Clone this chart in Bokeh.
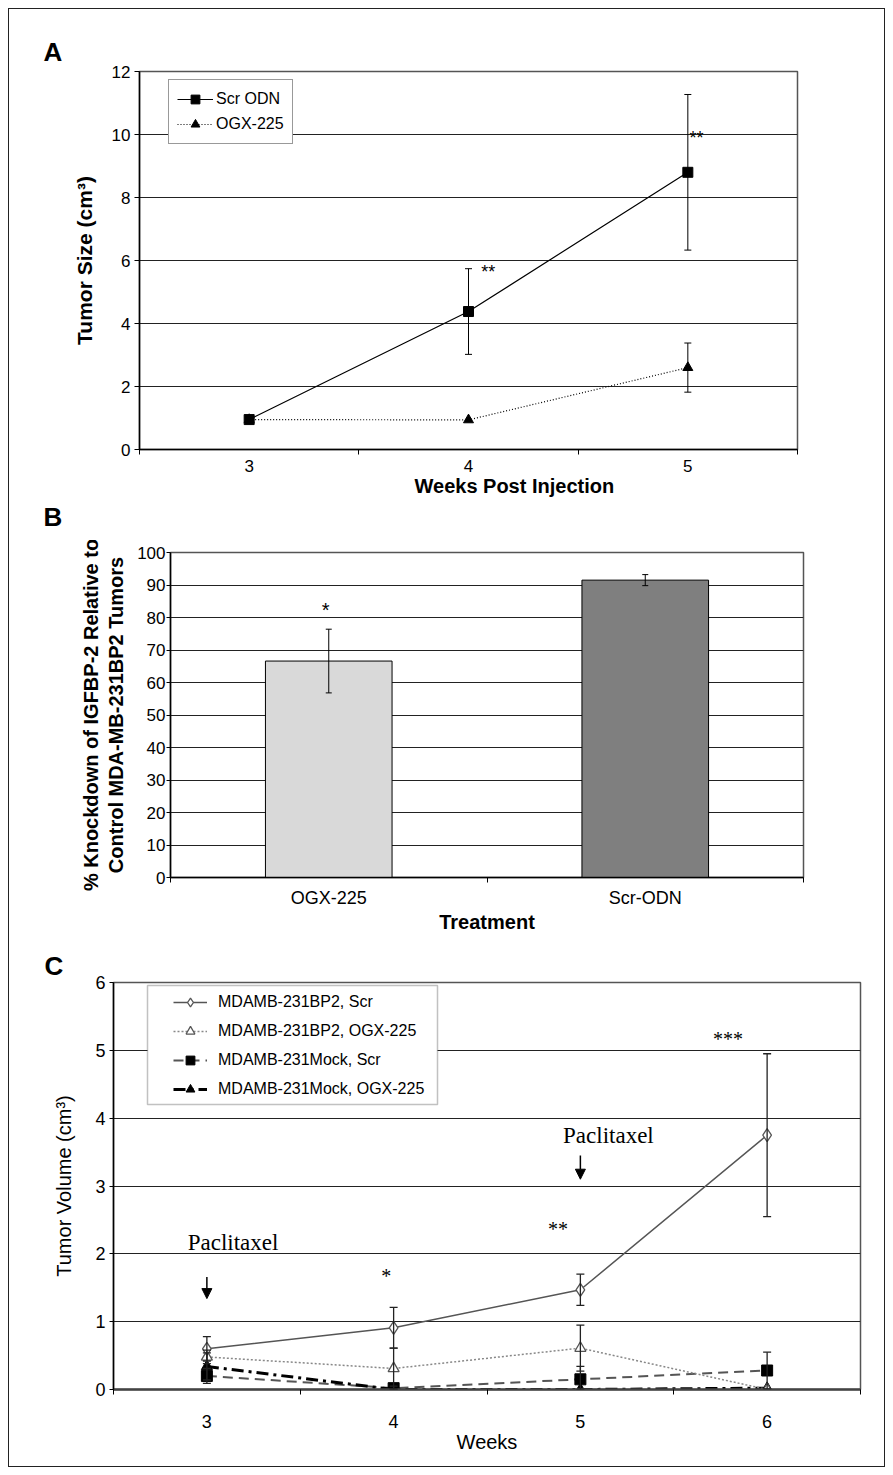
from bokeh.plotting import figure
from bokeh.models import (ColumnDataSource, Whisker, TeeHead, Legend, LegendItem, Title,
                          FixedTicker, SingleIntervalTicker, Range1d, Arrow, NormalHead,
                          BoxAnnotation)
from bokeh.layouts import column, row
from bokeh.embed import file_html
from bokeh.resources import INLINE
from bokeh.core.properties import value

SANS = "Liberation Sans"
SERIF = "Liberation Serif"

# ---------------- Panel A data ----------------
weeks_a = [3, 4, 5]
week_labels_a = ["3", "4", "5"]
scr_odn = [0.95, 4.38, 8.80]
scr_odn_err = [0.0, 1.36, 2.47]
ogx_225 = [0.95, 0.94, 2.60]
ogx_225_err = [0.0, 0.0, 0.78]
stars_a_text = ["**", "**"]
stars_a_x = [4.09, 5.04]
stars_a_y = [5.62, 9.90]

# ---------------- Panel B data ----------------
treatments = ["OGX-225", "Scr-ODN"]
knockdown = [66.6, 91.5]
knockdown_err = [9.8, 1.7]
bar_colors = ["#d9d9d9", "#7f7f7f"]
stars_b_text = ["*"]
stars_b_x = [0.49]
stars_b_y = [82.3]

# ---------------- Panel C data ----------------
weeks_c = [3, 4, 5, 6]
week_labels_c = ["3", "4", "5", "6"]
series_c_names = ["MDAMB-231BP2, Scr", "MDAMB-231BP2, OGX-225",
                  "MDAMB-231Mock, Scr", "MDAMB-231Mock, OGX-225"]
bp2_scr = [0.60, 0.91, 1.47, 3.75]
bp2_scr_err = [0.18, 0.30, 0.23, 1.20]
bp2_ogx = [0.48, 0.31, 0.61, 0.00]
bp2_ogx_err = [0.10, 0.30, 0.34, 0.0]
mock_scr = [0.20, 0.02, 0.15, 0.28]
mock_scr_err = [0.11, 0.03, 0.19, 0.27]
mock_ogx = [0.34, 0.00, 0.00, 0.02]
mock_ogx_err = [0.20, 0.0, 0.0, 0.0]
stars_c_text = ["*", "**", "***"]
stars_c_x = [3.96, 4.88, 5.79]
stars_c_y = [1.68, 2.37, 5.16]
pac_text = ["Paclitaxel", "Paclitaxel"]
pac_x = [3.14, 5.15]
pac_y = [2.16, 3.74]
arrow_x = [3, 5]
arrow_y_start = [1.66, 3.45]
arrow_y_end = [1.34, 3.10]


def add_err(p, xs, ys, es, color="black", width=1.0, head=7):
    pts = [(x, y, e) for x, y, e in zip(xs, ys, es) if e > 0]
    src = ColumnDataSource(dict(
        x=[a for a, _, _ in pts],
        upper=[y + e for _, y, e in pts],
        lower=[max(y - e, 0) for _, y, e in pts]))
    w = Whisker(source=src, base="x", upper="upper", lower="lower",
                line_color=color, line_width=width, level="annotation",
                upper_head=TeeHead(size=head, line_color=color, line_width=width),
                lower_head=TeeHead(size=head, line_color=color, line_width=width))
    p.add_layout(w)


def style(p, tick_font_x="17px", tick_font_y="17px"):
    p.xgrid.visible = False
    p.ygrid.grid_line_color = "#222222"
    p.ygrid.grid_line_width = 1.2
    p.outline_line_color = "#555555"
    p.outline_line_width = 1.5
    p.background_fill_color = "white"
    p.border_fill_color = "white"
    for ax in (p.xaxis[0], p.yaxis[0]):
        ax.axis_line_color = "black"
        ax.axis_line_width = 1.5
        ax.major_label_text_font = SANS
        ax.axis_label_text_font = SANS
        ax.major_label_text_color = "black"
        ax.axis_label_text_color = "black"
        ax.major_tick_line_color = "black"
        ax.minor_tick_line_color = "black"
        ax.major_tick_in = 0
        ax.minor_tick_in = 0
    p.xaxis[0].major_label_text_font_size = tick_font_x
    p.yaxis[0].major_label_text_font_size = tick_font_y
    p.xaxis[0].major_tick_out = 0
    p.xaxis[0].minor_tick_out = 5
    p.yaxis[0].minor_tick_out = 0
    p.yaxis[0].major_tick_out = 5


def panel_title(text, offset, standoff, valign, size="26px"):
    return Title(text=text, align="left", offset=offset, standoff=standoff,
                 vertical_align=valign, text_font=SANS, text_font_style="bold",
                 text_font_size=size, text_color="black")


# ======================= Panel A =======================
pA = figure(width=875, height=531, x_range=Range1d(2.5, 5.5), y_range=Range1d(0, 12),
            output_backend="svg", toolbar_location=None,
            title=panel_title("A", -96, 9, "bottom"),
            min_border_left=130, min_border_right=87, min_border_top=62, min_border_bottom=91)
style(pA)
pA.xaxis[0].ticker = FixedTicker(ticks=weeks_a, minor_ticks=[2.5, 3.5, 4.5, 5.5])
pA.xaxis[0].major_label_overrides = {w: s for w, s in zip(weeks_a, week_labels_a)}
pA.xaxis[0].major_label_standoff = 5
pA.yaxis[0].ticker = SingleIntervalTicker(interval=2, num_minor_ticks=0)
pA.yaxis[0].major_label_standoff = 4
pA.yaxis[0].axis_label = "Tumor Size (cm³)"
pA.yaxis[0].axis_label_text_font_style = "bold"
pA.yaxis[0].axis_label_text_font_size = "21px"
pA.yaxis[0].axis_label_standoff = 13

srcA = ColumnDataSource(dict(x=weeks_a, scr=scr_odn, ogx=ogx_225))
lA1 = pA.line("x", "scr", source=srcA, line_color="black", line_width=1.2)
lA2 = pA.line("x", "ogx", source=srcA, line_color="black", line_width=1.2, line_dash="1 2")
add_err(pA, weeks_a, scr_odn, scr_odn_err, head=7)
add_err(pA, weeks_a, ogx_225, ogx_225_err, head=7)
mA1 = pA.scatter("x", "scr", source=srcA, marker="square", size=10, color="black")
mA2 = pA.scatter("x", "ogx", source=srcA, marker="triangle", size=10, color="black")
pA.text(x=stars_a_x, y=stars_a_y, text=stars_a_text, text_font=value(SANS),
        text_font_size="18px", text_align="center", text_baseline="middle", text_color="black")

legA = Legend(items=[LegendItem(label="Scr ODN", renderers=[lA1, mA1]),
                     LegendItem(label="OGX-225", renderers=[lA2, mA2])],
              location=(29, 305), padding=8, spacing=3, glyph_width=36, glyph_height=22,
              label_height=22, label_standoff=3, label_text_font=SANS,
              label_text_font_size="16px", label_text_color="black",
              border_line_color="#333333", border_line_width=1.5,
              background_fill_color="white", background_fill_alpha=1.0, margin=0)
pA.add_layout(legA)
# x-axis title of panel A (offset to the right as in the original) and the "B" panel letter
pA.add_layout(Title(text="Weeks Post Injection", align="left", offset=275, standoff=0,
                    vertical_align="top", text_font=SANS, text_font_style="bold",
                    text_font_size="20px", text_color="black"), "below")
pA.add_layout(panel_title("B", -96, 6, "top"), "below")

# ======================= Panel B =======================
pB = figure(width=875, height=400, x_range=Range1d(0, 2), y_range=Range1d(0, 100),
            output_backend="svg", toolbar_location=None, title=None,
            min_border_left=161, min_border_right=81, min_border_top=12, min_border_bottom=63)
style(pB, tick_font_x="18px")
bar_x = [i + 0.5 for i in range(len(treatments))]
pB.xaxis[0].ticker = FixedTicker(ticks=bar_x, minor_ticks=list(range(len(treatments) + 1)))
pB.xaxis[0].major_label_overrides = {x: t for x, t in zip(bar_x, treatments)}
pB.xaxis[0].major_label_standoff = 5
pB.xaxis[0].axis_label = "Treatment"
pB.xaxis[0].axis_label_text_font_style = "bold"
pB.xaxis[0].axis_label_text_font_size = "20px"
pB.xaxis[0].axis_label_standoff = 0
pB.yaxis[0].ticker = SingleIntervalTicker(interval=10, num_minor_ticks=0)
pB.yaxis[0].major_tick_out = 4
pB.yaxis[0].major_label_standoff = 1
pB.yaxis[0].axis_label = "% Knockdown of IGFBP-2 Relative to\nControl MDA-MB-231BP2 Tumors"
pB.yaxis[0].axis_label_text_font_style = "bold"
pB.yaxis[0].axis_label_text_font_size = "20px"
pB.yaxis[0].axis_label_text_line_height = 1.15
pB.yaxis[0].axis_label_standoff = 7

srcB = ColumnDataSource(dict(x=bar_x, top=knockdown, color=bar_colors))
pB.vbar(x="x", top="top", bottom=0, width=0.4, source=srcB, fill_color="color",
        line_color="black", line_width=1)
add_err(pB, bar_x, knockdown, knockdown_err, head=6)
pB.text(x=stars_b_x, y=stars_b_y, text=stars_b_text, text_font=value(SANS),
        text_font_size="20px", text_align="center", text_baseline="middle", text_color="black")

# ======================= Panel C =======================
pC = figure(width=875, height=526, x_range=Range1d(2.5, 6.5), y_range=Range1d(0, 6),
            output_backend="svg", toolbar_location=None,
            title=panel_title("C", -69, 3, "bottom"),
            min_border_left=104, min_border_right=24, min_border_top=42, min_border_bottom=77)
style(pC, tick_font_x="18px", tick_font_y="18px")
pC.xaxis[0].ticker = FixedTicker(ticks=weeks_c, minor_ticks=[2.5, 3.5, 4.5, 5.5, 6.5])
pC.xaxis[0].major_label_overrides = {w: s for w, s in zip(weeks_c, week_labels_c)}
pC.xaxis[0].major_label_standoff = 20
pC.xaxis[0].axis_label = "Weeks"
pC.xaxis[0].axis_label_text_font_style = "normal"
pC.xaxis[0].axis_label_text_font_size = "20px"
pC.xaxis[0].axis_label_standoff = 0
pC.xaxis[0].axis_line_color = "#444444"
pC.xaxis[0].axis_line_width = 2.5
pC.yaxis[0].ticker = SingleIntervalTicker(interval=1, num_minor_ticks=0)
pC.yaxis[0].major_tick_out = 4
pC.yaxis[0].major_label_standoff = 4
pC.yaxis[0].axis_label = "Tumor Volume (cm³)"
pC.yaxis[0].axis_label_text_font_style = "normal"
pC.yaxis[0].axis_label_text_font_size = "20px"
pC.yaxis[0].axis_label_standoff = 17

srcC = ColumnDataSource(dict(x=weeks_c, s1=bp2_scr, s2=bp2_ogx, s3=mock_scr, s4=mock_ogx))
lC3 = pC.line("x", "s3", source=srcC, line_color="#555555", line_width=2, line_dash="10 6")
lC4 = pC.line("x", "s4", source=srcC, line_color="black", line_width=3, line_dash="12 5 3 5")
lC2 = pC.line("x", "s2", source=srcC, line_color="#888888", line_width=1.5, line_dash="2 2")
lC1 = pC.line("x", "s1", source=srcC, line_color="#555555", line_width=1.5)
add_err(pC, weeks_c, bp2_scr, bp2_scr_err, color="#222222", width=1.3, head=8)
add_err(pC, weeks_c, bp2_ogx, bp2_ogx_err, color="#222222", width=1.3, head=8)
add_err(pC, weeks_c, mock_scr, mock_scr_err, color="#222222", width=1.3, head=8)
add_err(pC, weeks_c, mock_ogx, mock_ogx_err, color="#222222", width=1.3, head=8)
mC3 = pC.scatter("x", "s3", source=srcC, marker="square", size=11, color="black")
mC4 = pC.scatter("x", "s4", source=srcC, marker="triangle", size=11, color="black")
mC2 = pC.scatter("x", "s2", source=srcC, marker="triangle", size=11, fill_color="white",
                 line_color="#555555", line_width=1.3)
mC1 = pC.scatter("x", "s1", source=srcC, marker="diamond", size=13, fill_color="white",
                 line_color="#555555", line_width=1.3)

pC.text(x=stars_c_x, y=stars_c_y, text=stars_c_text, text_font=value(SERIF),
        text_font_size="20px", text_align="center", text_baseline="middle", text_color="black")
pC.text(x=pac_x, y=pac_y, text=pac_text, text_font=value(SERIF),
        text_font_size="23px", text_align="center", text_baseline="middle", text_color="black")
for ax_, ys_, ye_ in zip(arrow_x, arrow_y_start, arrow_y_end):
    pC.add_layout(Arrow(x_start=ax_, y_start=ys_, x_end=ax_, y_end=ye_, line_color="black",
                        line_width=1.5,
                        end=NormalHead(size=10, fill_color="black", line_color="black")))

pC.add_layout(BoxAnnotation(left=34, right=324, top=404, bottom=285, left_units="screen",
                            right_units="screen", top_units="screen", bottom_units="screen",
                            fill_color="white", fill_alpha=1.0, line_color="#333333",
                            line_width=1.5, level="annotation"))
legC = Legend(items=[LegendItem(label=series_c_names[0], renderers=[lC1, mC1]),
                     LegendItem(label=series_c_names[1], renderers=[lC2, mC2]),
                     LegendItem(label=series_c_names[2], renderers=[lC3, mC3]),
                     LegendItem(label=series_c_names[3], renderers=[lC4, mC4])],
              location=(60, 289), padding=0, spacing=7, glyph_width=34, glyph_height=22,
              label_height=22, label_standoff=11, label_text_font=SANS,
              label_text_font_size="16px", label_text_color="black",
              border_line_alpha=0, background_fill_alpha=0, margin=0)
pC.add_layout(legC)

layout = column(row(pA), row(pB), row(pC),
                styles={"border": "1px solid #222222", "margin-left": "8px", "margin-top": "8px"})

with open("out.html", "w") as f:
    f.write(file_html(layout, INLINE, title="Figure"))
